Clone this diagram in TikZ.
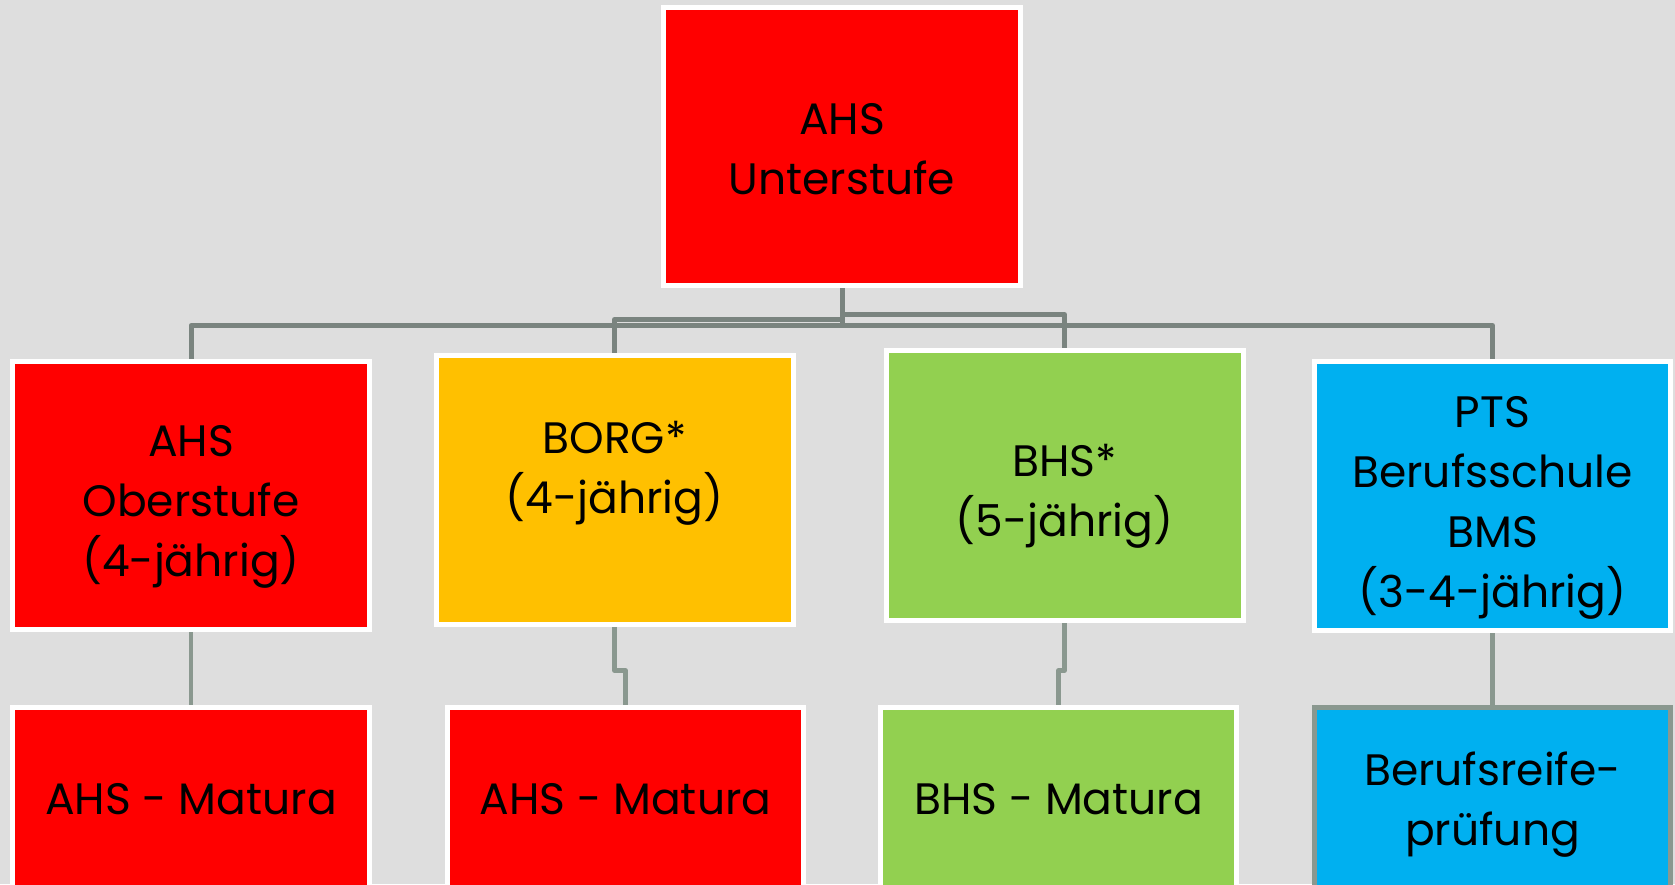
\documentclass[tikz,border=0pt]{standalone}
\usepackage{fontspec}
\setmainfont{Poppins}
\definecolor{bg}{HTML}{DEDEDE}
\definecolor{cred}{HTML}{FF0000}
\definecolor{cyel}{HTML}{FFC000}
\definecolor{cgrn}{HTML}{92D050}
\definecolor{cblu}{HTML}{00B0F0}
\definecolor{conn}{HTML}{7A847F}
\definecolor{connb}{HTML}{8A988F}
\begin{document}
\begin{tikzpicture}[x=1pt,y=-1pt,
  box/.style={draw=white,line width=5pt,inner sep=0pt,minimum width=357pt},
  lbl/.style={align=center,inner sep=0pt,font=\fontsize{44}{60}\selectfont},
  connup/.style={draw=conn,line width=5pt,line join=round},
  connlo/.style={draw=connb,line width=4.5pt,line join=round}]
\useasboundingbox (0,0) rectangle (1675,884);
\clip (0,0) rectangle (1675,884);
\fill[bg] (0,0) rectangle (1675,884);
% boxes
\node[box,fill=cred,minimum height=278pt] (top) at (842,146.5) {};
\node[box,fill=cred,minimum height=268pt] (b1) at (191,495.5) {};
\node[box,fill=cyel,minimum height=269pt] (b2) at (614.5,490) {};
\node[box,fill=cgrn,minimum height=270pt] (b3) at (1064.5,485.5) {};
\node[box,fill=cblu,minimum height=269pt,minimum width=356pt] (b4) at (1492.5,496) {};
\node[box,fill=cred,minimum height=210pt] (m1) at (191,812.5) {};
\node[box,fill=cred,minimum height=210pt,minimum width=356pt] (m2) at (625.5,812.5) {};
\node[box,fill=cgrn,minimum height=210pt,minimum width=356pt] (m3) at (1058.5,812.5) {};
\node[box,draw=connb,fill=cblu,minimum height=210pt,minimum width=356pt] (m4) at (1492.5,812.5) {};
% connectors
\draw[connup] (top.south) -- ++(0,37.5) -| (b1.north);
\draw[connup] (top.south) -- ++(0,31.5) -| (b2.north);
\draw[connup] (top.south) -- ++(0,26.5) -| (b3.north);
\draw[connup] (top.south) -- ++(0,37.5) -| (b4.north);
\draw[connlo] (b1.south) -- (m1.north);
\draw[connlo] (b2.south) -- ++(0,43.5) -| (m2.north);
\draw[connlo] (b3.south) -- ++(0,47.5) -| (m3.north);
\draw[connlo] (b4.south) -- (m4.north);
% labels
\node[lbl] (ttop) at (842,149) {AHS\\Unterstufe};
\node[lbl] (t1) at (191,507) {AHS\\Oberstufe\\(4-jährig)};
\node[lbl] (t2) at (614.5,473) {BORG*\\(4-jährig)};
\node[lbl] (t3) at (1064.5,496) {BHS*\\(5-jährig)};
\node[lbl] (t4) at (1492.5,508) {PTS\\Berufsschule\\BMS\\(3-4-jährig)};
\node[lbl] (tm1) at (191,799) {AHS - Matura};
\node[lbl] (tm2) at (625.5,799) {AHS - Matura};
\node[lbl] (tm3) at (1058.5,799) {BHS - Matura};
\node[lbl] (tm4) at (1492.5,805) {Berufsreife-\\prüfung};
\end{tikzpicture}
\end{document}
